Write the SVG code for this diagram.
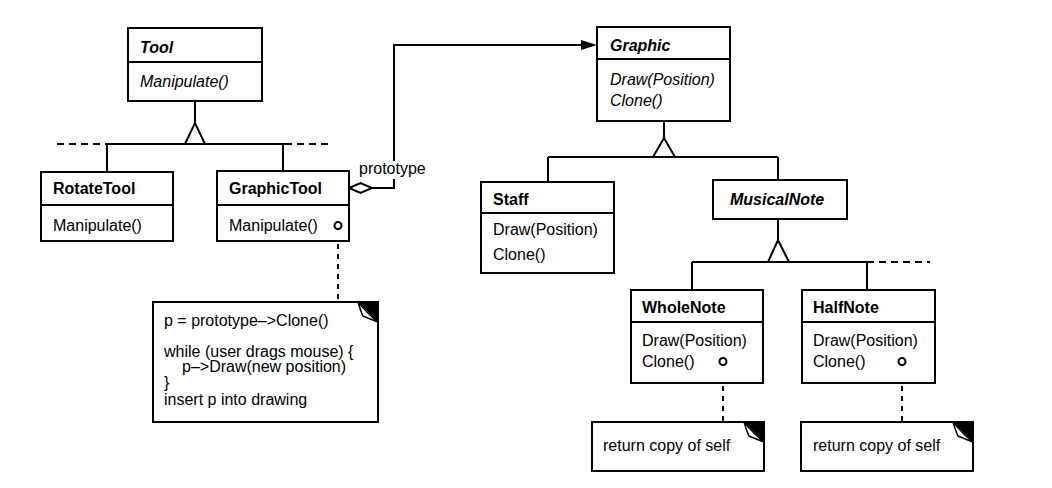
<svg xmlns="http://www.w3.org/2000/svg" width="1052" height="488" viewBox="0 0 1052 488">
<style>
.box{fill:#fff;stroke:#000;stroke-width:2}
.div{stroke:#000;stroke-width:2}
.t{font-family:"Liberation Sans",Arial,sans-serif;font-size:16px;fill:#000}
.b{font-weight:bold}
.i{font-style:italic}
.ln{fill:none;stroke:#000;stroke-width:2}
.dash{fill:none;stroke:#000;stroke-width:2;stroke-dasharray:7 5}
.vdash{fill:none;stroke:#000;stroke-width:2;stroke-dasharray:5 5}
.tri{fill:#fff;stroke:#000;stroke-width:2;stroke-linejoin:miter}
.lolly{fill:#fff;stroke:#000;stroke-width:2}
.ear{fill:#000}
.flap{fill:#fff;stroke:#000;stroke-width:1.5;stroke-linejoin:round}
</style>
<rect width="1052" height="488" fill="#fff"/>

<g id="connectors">
  <!-- Tool hierarchy -->
  <line class="ln" x1="195" y1="101" x2="195" y2="123"/>
  <line class="ln" x1="106" y1="144" x2="285" y2="144"/>
  <line class="dash" x1="57" y1="144" x2="106" y2="144"/>
  <line class="dash" x1="285" y1="144" x2="333" y2="144"/>
  <line class="ln" x1="107" y1="144" x2="107" y2="172"/>
  <line class="ln" x1="283" y1="144" x2="283" y2="171"/>
  <polygon class="tri" points="195,123 185,144 205,144"/>
  <!-- prototype aggregation -->
  <polyline class="ln" points="372,188 394,188 394,45 583,45"/>
  <polygon fill="#000" points="597,45 581,40 581,50"/>
  <polygon class="tri" points="349,188 360.5,183 372,188 360.5,193"/>
  <rect x="357" y="161" width="73" height="18" fill="#fff"/>
  <text class="t" x="359" y="174">prototype</text>
  <!-- Graphic hierarchy -->
  <line class="ln" x1="664" y1="121" x2="664" y2="138"/>
  <line class="ln" x1="548" y1="157" x2="778" y2="157"/>
  <line class="ln" x1="548" y1="157" x2="548" y2="182"/>
  <line class="ln" x1="778" y1="157" x2="778" y2="180"/>
  <polygon class="tri" points="664,138 653,157 675,157"/>
  <!-- MusicalNote hierarchy -->
  <line class="ln" x1="778" y1="219" x2="778" y2="240"/>
  <line class="ln" x1="692" y1="262" x2="867" y2="262"/>
  <line class="dash" x1="867" y1="262" x2="930" y2="262"/>
  <line class="ln" x1="692" y1="262" x2="692" y2="290"/>
  <line class="ln" x1="867" y1="262" x2="867" y2="290"/>
  <polygon class="tri" points="778,240 768,262 789,262"/>
  <!-- note anchors -->
  <line class="ln" x1="338" y1="229" x2="338" y2="241"/>
  <line class="vdash" x1="338" y1="244" x2="338" y2="302"/>
  <line class="ln" x1="723" y1="365" x2="723" y2="383"/>
  <line class="vdash" x1="723" y1="386" x2="723" y2="422"/>
  <line class="ln" x1="902" y1="365" x2="902" y2="383"/>
  <line class="vdash" x1="902" y1="386" x2="902" y2="422"/>
</g>

<g id="Tool">
  <rect class="box" x="128" y="28" width="134" height="73"/>
  <line class="div" x1="128" y1="62" x2="262" y2="62"/>
  <text class="t b i" x="140" y="53">Tool</text>
  <text class="t i" x="140" y="87">Manipulate()</text>
</g>

<g id="RotateTool">
  <rect class="box" x="41" y="172" width="132" height="69"/>
  <line class="div" x1="41" y1="205" x2="173" y2="205"/>
  <text class="t b" x="53" y="194">RotateTool</text>
  <text class="t" x="53" y="231">Manipulate()</text>
</g>

<g id="GraphicTool">
  <rect class="box" x="217" y="171" width="132" height="70"/>
  <line class="div" x1="217" y1="205" x2="349" y2="205"/>
  <text class="t b" x="229" y="194">GraphicTool</text>
  <text class="t" x="229" y="231">Manipulate()</text>
  <circle class="lolly" cx="338" cy="225.5" r="3.5"/>
</g>

<g id="Graphic">
  <rect class="box" x="597" y="27" width="133" height="94"/>
  <line class="div" x1="597" y1="59" x2="730" y2="59"/>
  <text class="t b i" x="610" y="51">Graphic</text>
  <text class="t i" x="610" y="85">Draw(Position)</text>
  <text class="t i" x="610" y="106">Clone()</text>
</g>

<g id="Staff">
  <rect class="box" x="481" y="182" width="133" height="91"/>
  <line class="div" x1="481" y1="213" x2="614" y2="213"/>
  <text class="t b" x="493" y="205">Staff</text>
  <text class="t" x="493" y="235">Draw(Position)</text>
  <text class="t" x="493" y="260">Clone()</text>
</g>

<g id="MusicalNote">
  <rect class="box" x="713" y="180" width="134" height="39"/>
  <text class="t b i" x="730" y="205">MusicalNote</text>
</g>

<g id="WholeNote">
  <rect class="box" x="631" y="290" width="132" height="93"/>
  <line class="div" x1="631" y1="322" x2="763" y2="322"/>
  <text class="t b" x="642" y="313">WholeNote</text>
  <text class="t" x="642" y="346">Draw(Position)</text>
  <text class="t" x="642" y="367">Clone()</text>
  <circle class="lolly" cx="723" cy="361.5" r="3.5"/>
</g>

<g id="HalfNote">
  <rect class="box" x="802" y="290" width="133" height="93"/>
  <line class="div" x1="802" y1="322" x2="935" y2="322"/>
  <text class="t b" x="813" y="313">HalfNote</text>
  <text class="t" x="813" y="346">Draw(Position)</text>
  <text class="t" x="813" y="367">Clone()</text>
  <circle class="lolly" cx="902" cy="361.5" r="3.5"/>
</g>

<g id="NoteGraphicTool">
  <rect class="box" x="153" y="302" width="225" height="120"/>
  <path class="ear" d="M358,302 L378,302 L378,322 Z"/>
  <path class="flap" d="M358,302 Q361,312 363,316 Q370,319 378,322 Q368,314 358,302 Z"/>
  <text class="t" x="164" y="326">p = prototype–&gt;Clone()</text>
  <text class="t" x="164" y="357">while (user drags mouse) {</text>
  <text class="t" x="182" y="372">p–&gt;Draw(new position)</text>
  <text class="t" x="164" y="388">}</text>
  <text class="t" x="164" y="405">insert p into drawing</text>
</g>

<g id="NoteWholeNote">
  <rect class="box" x="592" y="422" width="172" height="49"/>
  <path class="ear" d="M744,422 L764,422 L764,442 Z"/>
  <path class="flap" d="M744,422 Q747,432 749,436 Q756,439 764,442 Q754,434 744,422 Z"/>
  <text class="t" x="603" y="451">return copy of self</text>
</g>

<g id="NoteHalfNote">
  <rect class="box" x="801" y="422" width="172" height="49"/>
  <path class="ear" d="M953,422 L973,422 L973,442 Z"/>
  <path class="flap" d="M953,422 Q956,432 958,436 Q965,439 973,442 Q963,434 953,422 Z"/>
  <text class="t" x="813" y="451">return copy of self</text>
</g>
</svg>
